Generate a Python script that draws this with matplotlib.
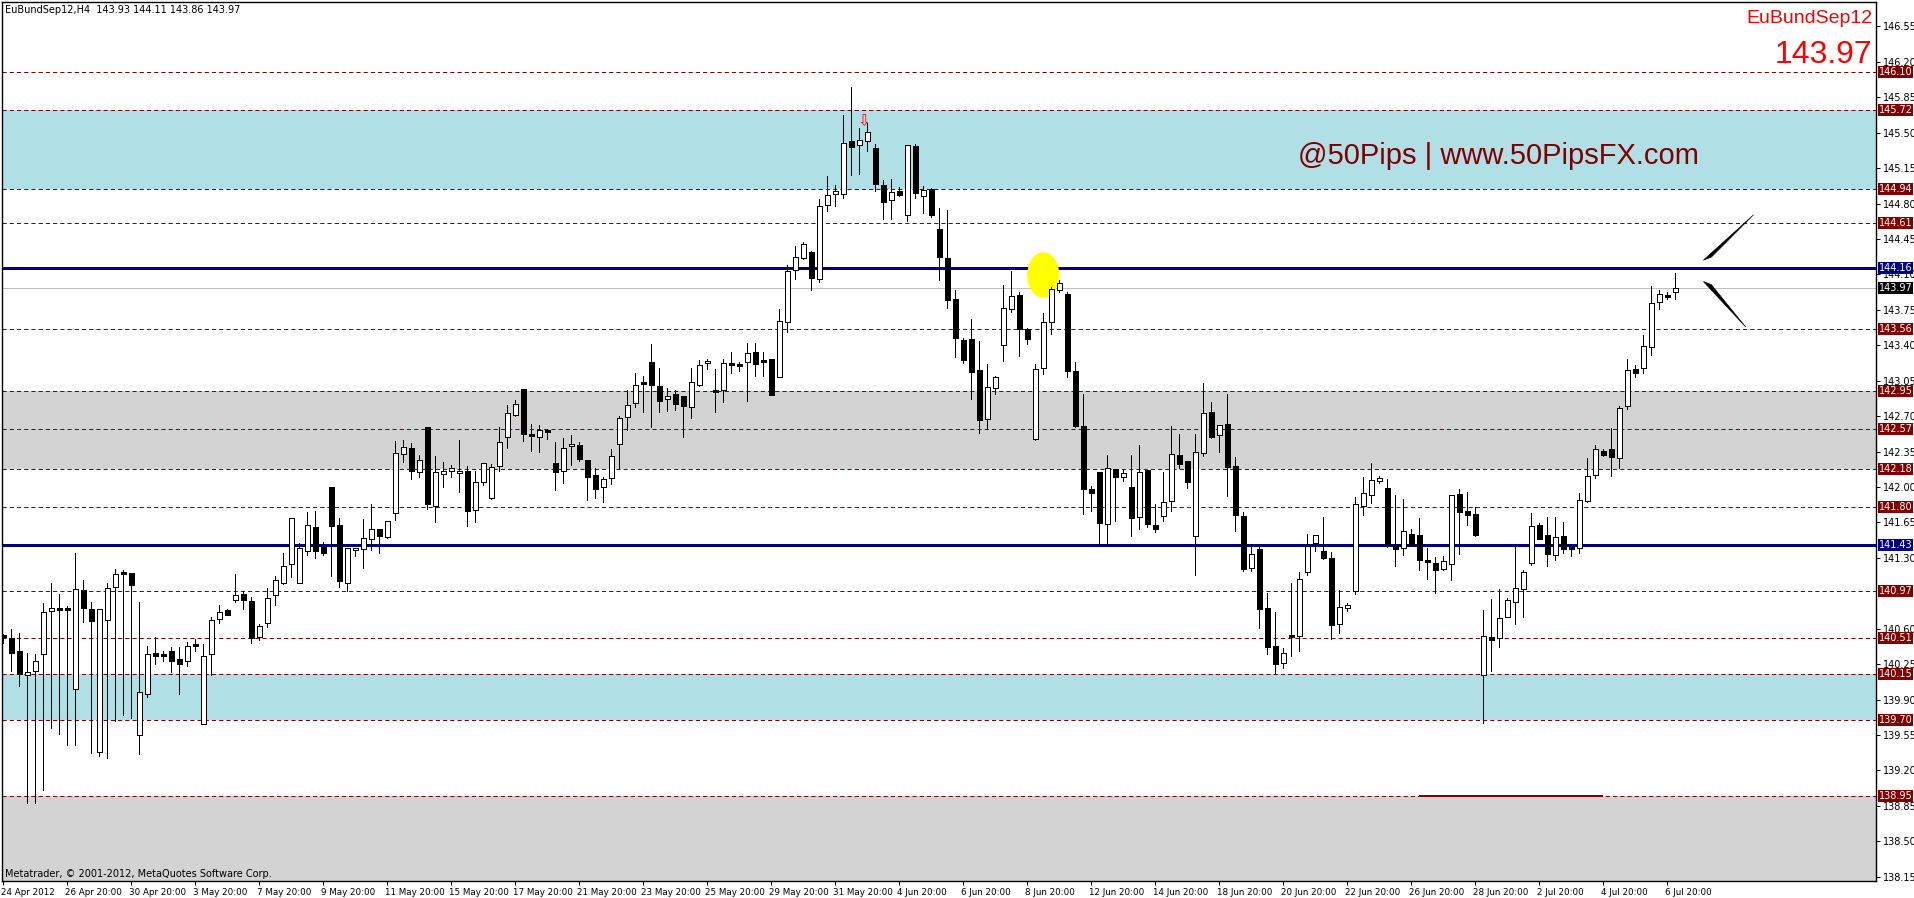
import matplotlib
matplotlib.use('Agg')
import matplotlib.pyplot as plt
import matplotlib.transforms as mtransforms
from matplotlib.patches import Rectangle, Ellipse, Polygon
from matplotlib import font_manager

plt.rcParams['lines.scale_dashes'] = False

# [1] H4 bars EuBundSep12 (oldest first)
opens = [140.54, 140.51, 140.38, 140.14, 140.18, 140.35, 140.77, 140.79, 140.79, 140.00,
         140.98, 140.79, 139.38, 140.69, 141.01, 141.15, 141.15, 139.55, 139.95, 140.36,
         140.34, 140.38, 140.30, 140.28, 140.44, 139.66, 140.35, 140.70, 140.78, 140.88,
         140.94, 140.87, 140.52, 140.66, 140.93, 141.05, 141.24, 141.05, 141.37, 141.60,
         141.41, 142.00, 141.62, 141.05, 141.38, 141.39, 141.49, 141.58, 141.51, 141.74,
         142.33, 142.38, 142.15, 142.59, 141.81, 142.13, 142.16, 142.14, 142.16, 141.77,
         142.05, 141.89, 142.21, 142.49, 142.71, 142.97, 142.51, 142.49, 142.55, 142.24,
         142.16, 142.40, 142.41, 142.27, 142.12, 142.00, 142.09, 142.42, 142.69, 142.83,
         143.03, 143.23, 143.00, 142.87, 142.92, 142.90, 142.79, 143.01, 143.22, 142.95,
         142.96, 143.21, 143.20, 143.23, 143.33, 143.24, 143.26, 143.09, 143.63, 144.14,
         144.26, 144.32, 144.05, 144.79, 144.89, 144.89, 145.42, 145.38, 145.42, 145.35,
         144.98, 144.83, 144.92, 144.69, 145.37, 144.87, 144.94, 144.55, 144.26, 143.86,
         143.45, 143.46, 143.16, 142.67, 142.98, 143.40, 143.76, 143.90, 143.56, 142.47,
         143.18, 143.63, 143.95, 143.91, 143.15, 142.60, 141.98, 142.15, 141.63, 142.18,
         142.10, 142.00, 141.70, 142.17, 141.62, 141.71, 141.86, 142.32, 142.26, 141.52,
         142.34, 142.74, 142.51, 142.62, 142.21, 141.71, 141.20, 141.39, 140.80, 140.43,
         140.26, 140.53, 140.53, 141.16, 141.45, 141.37, 141.30, 140.65, 140.80, 140.97,
         141.81, 141.92, 142.06, 141.99, 141.42, 141.40, 141.54, 141.53, 141.27, 141.25,
         141.19, 141.24, 141.93, 141.76, 141.73, 140.14, 140.52, 140.51, 140.72, 140.86,
         140.99, 141.25, 141.62, 141.53, 141.33, 141.52, 141.40, 141.40, 141.86, 142.12,
         142.36, 142.37, 142.29, 142.80, 143.17, 143.18, 143.38, 143.83, 143.89, 143.93]
highs = [140.55, 140.60, 140.56, 140.36, 140.35, 140.85, 141.05, 140.94, 140.82, 141.35,
         141.08, 140.86, 140.79, 141.05, 141.19, 141.18, 141.15, 140.86, 140.43, 140.52,
         140.38, 140.42, 140.42, 140.47, 140.50, 140.45, 140.72, 140.83, 140.79, 141.14,
         140.97, 140.91, 140.65, 141.00, 141.12, 141.35, 141.69, 141.45, 141.75, 141.76,
         141.46, 142.00, 141.69, 141.40, 141.40, 141.68, 141.83, 141.58, 141.66, 142.45,
         142.46, 142.43, 142.32, 142.59, 142.31, 142.25, 142.22, 142.46, 142.21, 142.16,
         142.24, 142.23, 142.59, 142.81, 142.86, 142.97, 142.62, 142.61, 142.57, 142.44,
         142.48, 142.51, 142.44, 142.27, 142.19, 142.10, 142.37, 142.70, 142.96, 143.13,
         143.10, 143.41, 143.18, 142.98, 142.96, 142.90, 143.18, 143.25, 143.26, 143.17,
         143.26, 143.33, 143.23, 143.42, 143.42, 143.33, 143.26, 143.76, 144.19, 144.38,
         144.42, 144.33, 144.84, 145.07, 144.98, 145.67, 145.95, 145.55, 145.60, 145.39,
         145.03, 145.04, 144.96, 145.38, 145.39, 144.97, 144.95, 144.76, 144.74, 143.95,
         143.47, 143.66, 143.44, 143.21, 143.10, 144.00, 144.13, 143.93, 143.57, 143.21,
         143.72, 143.98, 144.04, 143.93, 143.23, 142.92, 142.01, 142.15, 142.32, 142.18,
         142.18, 142.32, 142.41, 142.17, 141.83, 142.15, 142.60, 142.52, 142.26, 142.52,
         143.03, 142.84, 142.61, 142.92, 142.30, 141.75, 141.44, 141.44, 140.95, 140.76,
         140.41, 141.05, 141.16, 141.54, 141.53, 141.70, 141.36, 140.98, 140.85, 141.90,
         142.10, 142.24, 142.11, 142.08, 141.92, 141.88, 141.58, 141.69, 141.40, 141.31,
         141.32, 141.92, 141.98, 141.95, 141.80, 140.78, 140.89, 140.99, 140.90, 141.41,
         141.18, 141.74, 141.64, 141.70, 141.70, 141.65, 141.40, 141.94, 142.29, 142.41,
         142.37, 142.58, 142.80, 143.26, 143.20, 143.50, 143.99, 143.95, 143.93, 144.11]
lows = [140.46, 140.18, 140.03, 138.88, 138.88, 139.01, 139.62, 139.56, 139.45, 139.45,
        140.67, 139.37, 139.34, 139.32, 139.69, 139.75, 139.72, 139.36, 139.92, 140.25,
        140.28, 140.17, 139.95, 140.23, 140.38, 139.66, 140.14, 140.66, 140.73, 140.86,
        140.79, 140.46, 140.49, 140.62, 140.83, 141.04, 141.11, 141.05, 141.33, 141.30,
        141.33, 141.12, 141.01, 140.97, 141.32, 141.20, 141.38, 141.35, 141.50, 141.67,
        142.25, 142.08, 142.10, 141.78, 141.65, 142.00, 142.10, 141.95, 141.61, 141.65,
        142.02, 141.88, 142.16, 142.38, 142.70, 142.45, 142.36, 142.35, 142.47, 141.97,
        142.04, 142.22, 142.26, 141.87, 141.89, 141.85, 142.03, 142.18, 142.56, 142.79,
        142.74, 142.59, 142.74, 142.75, 142.76, 142.49, 142.68, 143.00, 143.17, 142.74,
        142.84, 143.13, 143.15, 142.85, 143.10, 143.10, 142.91, 143.09, 143.53, 144.05,
        144.25, 143.95, 144.02, 144.73, 144.78, 144.85, 145.08, 145.09, 145.32, 144.92,
        144.65, 144.65, 144.87, 144.63, 144.85, 144.71, 144.67, 144.04, 143.77, 143.28,
        143.22, 142.87, 142.53, 142.57, 142.92, 143.24, 143.73, 143.29, 143.41, 142.46,
        143.12, 143.51, 143.93, 143.09, 142.59, 141.73, 141.76, 141.44, 141.44, 141.66,
        142.06, 141.52, 141.58, 141.60, 141.55, 141.66, 141.76, 142.19, 141.99, 141.13,
        142.31, 142.48, 142.35, 141.91, 141.56, 141.17, 141.17, 140.61, 140.35, 140.15,
        140.21, 140.33, 140.38, 141.13, 141.37, 141.29, 140.50, 140.56, 140.77, 140.94,
        141.72, 141.84, 142.04, 141.41, 141.22, 141.33, 141.43, 141.18, 141.09, 140.95,
        141.18, 141.08, 141.34, 141.62, 141.52, 139.67, 140.18, 140.42, 140.72, 140.65,
        140.72, 141.23, 141.49, 141.22, 141.28, 141.35, 141.32, 141.35, 141.85, 142.09,
        142.31, 142.11, 142.19, 142.77, 143.09, 143.13, 143.30, 143.76, 143.86, 143.86]
closes = [140.52, 140.36, 140.15, 140.17, 140.28, 140.76, 140.80, 140.79, 140.79, 140.99,
          140.80, 140.68, 140.79, 141.00, 141.14, 141.15, 141.03, 139.97, 140.35, 140.33,
          140.33, 140.28, 140.25, 140.43, 140.44, 140.33, 140.69, 140.76, 140.73, 140.93,
          140.88, 140.51, 140.63, 140.90, 141.08, 141.22, 141.69, 141.40, 141.62, 141.37,
          141.35, 141.61, 141.07, 141.40, 141.40, 141.50, 141.58, 141.52, 141.66, 142.34,
          142.39, 142.16, 142.27, 141.83, 142.15, 142.16, 142.19, 142.16, 141.76, 142.05,
          142.24, 142.20, 142.44, 142.73, 142.82, 142.52, 142.51, 142.56, 142.55, 142.15,
          142.38, 142.42, 142.28, 142.10, 141.98, 142.08, 142.31, 142.68, 142.81, 143.01,
          143.03, 143.01, 142.85, 142.90, 142.82, 142.80, 143.04, 143.20, 143.24, 142.95,
          143.22, 143.21, 143.20, 143.32, 143.21, 143.24, 142.91, 143.64, 144.13, 144.27,
          144.40, 144.06, 144.78, 144.88, 144.92, 145.40, 145.36, 145.43, 145.51, 144.99,
          144.82, 144.91, 144.88, 145.38, 144.90, 144.93, 144.69, 144.27, 143.85, 143.47,
          143.25, 143.14, 142.66, 142.99, 143.09, 143.77, 143.89, 143.56, 143.46, 143.17,
          143.63, 143.96, 144.01, 143.15, 142.60, 141.98, 141.94, 141.64, 142.19, 142.10,
          142.14, 141.69, 142.15, 141.63, 141.58, 141.85, 142.33, 142.23, 142.05, 142.35,
          142.73, 142.49, 142.61, 142.20, 141.72, 141.19, 141.34, 140.79, 140.42, 140.25,
          140.36, 140.53, 141.09, 141.42, 141.53, 141.30, 140.64, 140.81, 140.83, 141.83,
          141.94, 142.07, 142.09, 141.44, 141.39, 141.56, 141.44, 141.28, 141.27, 141.18,
          141.27, 141.92, 141.75, 141.72, 141.53, 140.53, 140.49, 140.71, 140.88, 141.00,
          141.16, 141.61, 141.49, 141.34, 141.51, 141.39, 141.40, 141.87, 142.11, 142.37,
          142.32, 142.30, 142.78, 143.16, 143.13, 143.39, 143.82, 143.91, 143.89, 143.97]

# [2] time scale labels (every 8 bars)
date_labels = ['24 Apr 2012', '26 Apr 20:00', '30 Apr 20:00', '3 May 20:00', '7 May 20:00',
               '9 May 20:00', '11 May 20:00', '15 May 20:00', '17 May 20:00', '21 May 20:00',
               '23 May 20:00', '25 May 20:00', '29 May 20:00', '31 May 20:00', '4 Jun 20:00',
               '6 Jun 20:00', '8 Jun 20:00', '12 Jun 20:00', '14 Jun 20:00', '18 Jun 20:00',
               '20 Jun 20:00', '22 Jun 20:00', '26 Jun 20:00', '28 Jun 20:00', '2 Jul 20:00',
               '4 Jul 20:00', '6 Jul 20:00']
date_bars = [0, 8, 16, 24, 32, 40, 48, 56, 64, 72, 80, 88, 96, 104, 112, 120, 128, 136,
             144, 152, 160, 168, 176, 184, 192, 200, 208]

# [3] price scale (140.95 sits under the 140.97 box, so it is not shown)
price_ticks = [146.55, 146.20, 145.85, 145.50, 145.15, 144.80, 144.45, 144.10, 143.75,
               143.40, 143.05, 142.70, 142.35, 142.00, 141.65, 141.30, 140.60,
               140.25, 139.90, 139.55, 139.20, 138.85, 138.50, 138.15]

# [4] drawn objects
dash_levels = [146.10, 145.72, 144.94, 144.61, 143.56, 142.95, 142.57, 142.18, 141.80,
               140.97, 140.51, 140.15, 139.70, 138.95]
blue_levels = [144.16, 141.43]
bid_price = 143.97
blue_zones = [(144.94, 145.72), (139.70, 140.15)]
grey_zones = [(142.18, 142.95), (137.0, 138.95)]
red_segment = (177, 200, 138.95)
ellipse_mark = (130, 144.094)
arrow_mark = (107.6, 145.62)
wedge_up = [(212.5, 144.24), (218.8, 144.69)]
wedge_dn = [(212.5, 144.03), (217.8, 143.58)]

# [5] figure
W, H = 1914, 898
PX = 0.72  # 1 px in points
fig = plt.figure(figsize=(W / 100, H / 100), dpi=100)
ax = fig.add_axes([2 / W, (H - 881) / H, 1874 / W, 879 / H])
ax.set_xlim(-0.1625, 234.09)
ax.set_ylim(138.107, 146.791)

for lo, hi in blue_zones:
    ax.axhspan(lo, hi, color='#B0E0E6', lw=0, zorder=0)
for lo, hi in grey_zones:
    ax.axhspan(lo, hi, color='#D3D3D3', lw=0, zorder=0)
for lv in dash_levels:
    ax.axhline(lv, color='#800000', lw=PX, dashes=(3.0, 2.2), zorder=1)
ax.axhline(bid_price, color='#C0C0C0', lw=PX, zorder=1)
for lv in blue_levels:
    ax.axhline(lv, color='#000080', lw=3 * PX, zorder=1.5)
ax.hlines(red_segment[2], red_segment[0], red_segment[1], color='#800000', lw=2 * PX, zorder=1.6)

ax.add_patch(Ellipse(ellipse_mark, 4.0, 0.45, color='#FFFF00', lw=0, zorder=1.8))

# candles
for k in range(len(opens)):
    o, h, l, c = opens[k], highs[k], lows[k], closes[k]
    ax.vlines(k, l, h, color='black', lw=PX, zorder=2, antialiased=False)
    if abs(c - o) < 0.015:
        ax.hlines(o, k - 0.3, k + 0.3, color='black', lw=1.4 * PX, zorder=3, antialiased=False)
    else:
        fc = 'white' if c > o else 'black'
        ax.add_patch(Rectangle((k - 0.3, min(o, c)), 0.6, abs(c - o), fc=fc, ec='black',
                               lw=PX, zorder=3, antialiased=False))

# sell arrow above the top bars
ax.text(arrow_mark[0], arrow_mark[1], '\u21e9', color='red', fontsize=11, ha='center',
        va='center', zorder=4)

# wedge marks on the right
ax.add_patch(Polygon([wedge_up[0], wedge_up[1], (wedge_up[0][0] + 1.0, wedge_up[0][1] + 0.03)],
                     closed=True, fc='black', ec='black', lw=PX * 0.6, zorder=4))
ax.add_patch(Polygon([wedge_dn[0], wedge_dn[1], (wedge_dn[0][0] + 1.0, wedge_dn[0][1] - 0.03)],
                     closed=True, fc='black', ec='black', lw=PX * 0.6, zorder=4))

# axes / ticks
for s in ax.spines.values():
    s.set_linewidth(PX * 1.4)
    s.set_color('black')
ax.yaxis.tick_right()
ax.set_yticks(price_ticks)
ax.set_yticklabels(['%.2f' % v for v in price_ticks])
ax.tick_params(axis='y', direction='out', length=3, width=PX, pad=2, labelsize=7)

names = {f.name for f in font_manager.fontManager.ttflist}
narrow = 'Liberation Sans Narrow' if 'Liberation Sans Narrow' in names else 'DejaVu Sans'
ax.set_xticks(date_bars)
ax.set_xticklabels(date_labels, ha='left', fontsize=7 if narrow != 'DejaVu Sans' else 6.3,
                   family=narrow)
ax.tick_params(axis='x', direction='out', length=3, width=PX, pad=2)
off = mtransforms.ScaledTranslation(-2 / 100, 0, fig.dpi_scale_trans)
for t in ax.get_xticklabels():
    t.set_transform(t.get_transform() + off)

# price boxes on the scale
def price_box(price, color):
    yp = ax.transData.transform((0, price))[1]
    fig.patches.append(Rectangle((1878, yp - 6), 35, 12, transform=mtransforms.IdentityTransform(),
                                 fc=color, ec='none', zorder=5))
    fig.text(1895.5 / W, yp / H, '%.2f' % price, color='white', fontsize=7, ha='center',
             va='center', zorder=6)

for lv in dash_levels:
    price_box(lv, '#800000')
for lv in blue_levels:
    price_box(lv, '#000080')
price_box(bid_price, 'black')

# texts
fig.text(5 / W, 1 - 13 / H, 'EuBundSep12,H4  %.2f %.2f %.2f %.2f'
         % (opens[-1], highs[-1], lows[-1], closes[-1]), fontsize=7, va='baseline')
fig.text(1872 / W, 1 - 23 / H, 'EuBundSep12', color='red', fontsize=14,
         family='Liberation Sans', ha='right', va='baseline')
fig.text(1872 / W, 1 - 63 / H, '%.2f' % closes[-1], color='red', fontsize=23,
         family='Liberation Sans', ha='right', va='baseline')
fig.text(1699 / W, 1 - 164 / H, '@50Pips | www.50PipsFX.com', color='#800000', fontsize=21,
         family='Liberation Sans', ha='right', va='baseline')
fig.text(5 / W, 1 - 877 / H, 'Metatrader, \u00a9 2001-2012, MetaQuotes Software Corp.',
         fontsize=7, va='baseline')

fig.savefig('out.png', dpi=100, facecolor='white')
